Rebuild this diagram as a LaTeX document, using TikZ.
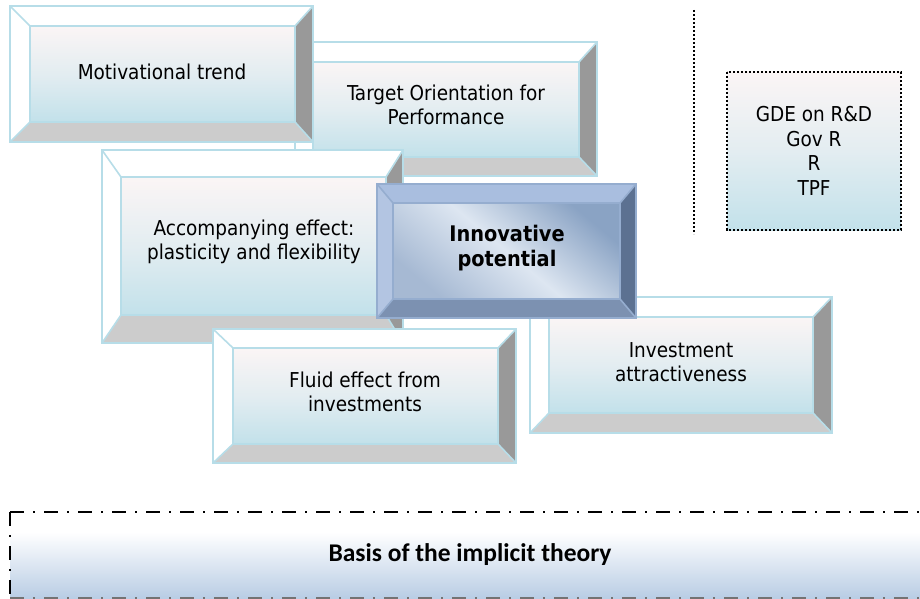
\documentclass[tikz,border=0pt]{standalone}
\usepackage{fontspec}
\setmainfont{DejaVu Sans Condensed}
\newfontfamily\calfont{Carlito}
\definecolor{edgeblue}{HTML}{B7DDE8}
\definecolor{facetop}{HTML}{FBF5F5}
\definecolor{facemid}{HTML}{E3EDF1}
\definecolor{facebot}{HTML}{C2E1EA}
\definecolor{bevR}{HTML}{999999}
\definecolor{bevB}{HTML}{CCCCCC}
\definecolor{dedge}{HTML}{95ADCF}
\definecolor{dtopc}{HTML}{A9BEDF}
\definecolor{dleftc}{HTML}{B3C5E2}
\definecolor{drightc}{HTML}{5C7191}
\definecolor{dbotc}{HTML}{7C91B1}
\definecolor{dfaceA}{HTML}{8AA3C4}
\definecolor{dfaceB}{HTML}{DDE6F1}
\definecolor{dfaceC}{HTML}{A6B9D3}
\definecolor{basisblue}{HTML}{B8CCE4}
\tikzset{
  Ltop/.style={fill=white}, Lleft/.style={fill=white},
  Lright/.style={fill=bevR}, Lbot/.style={fill=bevB},
  Lface/.style={top color=facetop, bottom color=facebot, middle color=facemid},
  Ledge/.style={draw=edgeblue, line width=1.6pt},
  Dtop/.style={fill=dtopc}, Dleft/.style={fill=dleftc},
  Dright/.style={fill=drightc}, Dbot/.style={fill=dbotc},
  Dface/.style={top color=dfaceA, bottom color=dfaceC, middle color=dfaceB, shading angle=-40},
  Dedge/.style={draw=dedge, line width=1.6pt},
  lbl/.style={align=center, font=\fontsize{20.5}{24.5}\selectfont, inner sep=0pt},
  blbl/.style={align=center, font=\fontsize{21.5}{24.5}\selectfont\bfseries, inner sep=0pt},
  dashdotline/.style={line width=2pt, dash pattern=on 14pt off 9pt on 2pt off 9pt},
  dotline/.style={line width=2.2pt, dash pattern=on 2.2pt off 1.8pt},
}
\newcommand{\bevbox}[9]{%
  \pgfmathsetmacro\bxa{#1+#5}\pgfmathsetmacro\bya{#2+#6}%
  \pgfmathsetmacro\bxb{#3-#7}\pgfmathsetmacro\byb{#4-#8}%
  \fill[#9top] (#1,#2) -- (#3,#2) -- (\bxb,\bya) -- (\bxa,\bya) -- cycle;
  \fill[#9left] (#1,#2) -- (\bxa,\bya) -- (\bxa,\byb) -- (#1,#4) -- cycle;
  \fill[#9right] (#3,#2) -- (#3,#4) -- (\bxb,\byb) -- (\bxb,\bya) -- cycle;
  \fill[#9bot] (#1,#4) -- (#3,#4) -- (\bxb,\byb) -- (\bxa,\byb) -- cycle;
  \shade[#9face] (\bxa,\bya) rectangle (\bxb,\byb);
  \draw[#9edge] (#1,#2) rectangle (#3,#4) (\bxa,\bya) rectangle (\bxb,\byb)
    (#1,#2) -- (\bxa,\bya) (#3,#2) -- (\bxb,\bya) (#3,#4) -- (\bxb,\byb) (#1,#4) -- (\bxa,\byb);
}
\begin{document}
\begin{tikzpicture}[x=1pt,y=-1pt]
\useasboundingbox (0,0) rectangle (920,599);
\fill[white] (0,0) rectangle (920,599);
% box 2
\bevbox{295}{42}{597}{176}{18}{20}{18}{19}{L}
\node[lbl] (t2) at (446,105) {Target Orientation for\\Performance};
% box 1
\bevbox{10}{6}{313}{142}{20}{20}{18}{20}{L}
\node[lbl] (t1) at (162,72) {Motivational trend};
% box 3
\bevbox{102}{150}{403}{343}{19}{27}{17}{28}{L}
\node[lbl] (t3) at (254,242) {Accompanying effect:\\plasticity and flexibility};
% investment
\bevbox{530}{297}{832}{433}{19}{20}{19}{20}{L}
\node[lbl] (t6) at (681,362) {Investment\\attractiveness};
% fluid
\bevbox{213}{329}{516}{463}{20}{19}{18}{19}{L}
\node[lbl] (t5) at (365,392) {Fluid effect from\\investments};
% innovative
\bevbox{377}{184}{636}{318}{16}{19}{16}{19}{D}
\node[blbl] (t4) at (507,248) {Innovative\\potential};
% right side
\draw[dotline] (694,10) coordinate (d1) -- (694,234) coordinate (d2);
\shade[top color=facetop, bottom color=facebot, middle color=facemid] (727,72) rectangle (901,230);
\draw[dotline] (727,72) rectangle (901,230);
\node[lbl] (t7) at (814,151) {GDE on R\&D\\Gov R\\R\\TPF};
% basis band
\shade[top color=white, bottom color=basisblue] (10,532) rectangle (920,599);
\draw[dashdotline] (10,512) coordinate (b1) -- (920,512) coordinate (b2);
\draw[dashdotline] (10,512) -- (10,599) coordinate (b3);
\draw[dashdotline, draw=black!55] (10,598) -- (920,598) coordinate (b4);
\node[inner sep=0pt, font=\calfont\fontsize{25.5}{28}\selectfont\bfseries] (t8) at (470,555) {Basis of the implicit theory};
\end{tikzpicture}
\end{document}
